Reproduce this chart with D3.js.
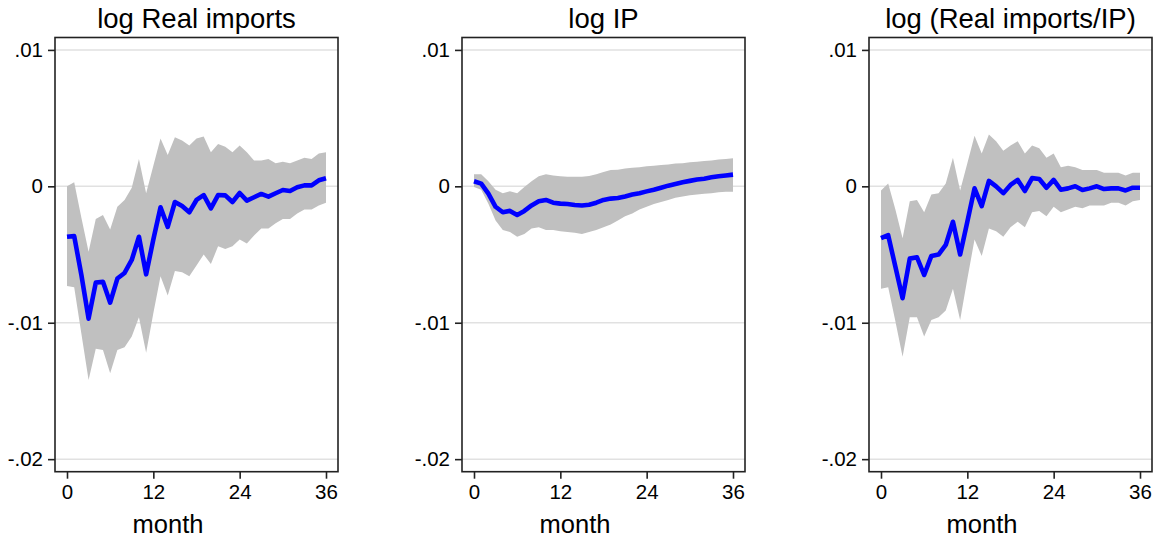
<!DOCTYPE html>
<html>
<head>
<meta charset="utf-8">
<script src="https://cdn.jsdelivr.net/npm/d3@7"></script>
<style>
  body { margin: 0; background: #fff; }
  svg { display: block; font-family: "Liberation Sans", Arial, Helvetica, sans-serif; }
</style>
</head>
<body>
<div class="svg-container"></div>
<script>
// months 0..36
const months = d3.range(0, 37);

const titles = ['log Real imports', 'log IP', 'log (Real imports/IP)'];
const yTicks = [0.01, 0, -0.01, -0.02];
const yTickLabels = ['.01', '0', '-.01', '-.02'];
const xTicks = [0, 12, 24, 36];

// log Real imports
const importsIrf = [-0.0037, -0.00365, -0.0065, -0.0097, -0.00706, -0.0070, -0.00853, -0.00676, -0.00635, -0.0054,
  -0.0037, -0.00645, -0.0039, -0.00154, -0.00297, -0.00115, -0.00145, -0.0019, -0.0010, -0.00064,
  -0.00162, -0.00064, -0.00066, -0.00115, -0.00049, -0.00105, -0.0008, -0.00056, -0.00076, -0.00051,
  -0.00027, -0.00034, -0.00007, 0.00007, 0.00007, 0.00044, 0.00059];
const importsUpper = [0.0000, 0.0003, -0.0023, -0.0048, -0.0024, -0.0021, -0.00316, -0.0015, -0.0010, -0.0001,
  0.0020, -0.0005, 0.0015, 0.0035, 0.0023, 0.0036, 0.00336, 0.0030, 0.0035, 0.00365,
  0.0025, 0.0031, 0.0029, 0.0025, 0.0030, 0.0025, 0.0019, 0.0019, 0.0020, 0.0017,
  0.0018, 0.0017, 0.0019, 0.0021, 0.0020, 0.0024, 0.0025];
const importsLower = [-0.0073, -0.0074, -0.0108, -0.0142, -0.0119, -0.0120, -0.0137, -0.0120, -0.0118, -0.0110,
  -0.0096, -0.0122, -0.0093, -0.0066, -0.0080, -0.0062, -0.0063, -0.0066, -0.0058, -0.0050,
  -0.0057, -0.0044, -0.0046, -0.0044, -0.0039, -0.0042, -0.0036, -0.0031, -0.0031, -0.0027,
  -0.0024, -0.0024, -0.0020, -0.0017, -0.0017, -0.0014, -0.0012];

// log IP
const ipIrf = [0.00037, 0.0002, -0.00054, -0.0015, -0.0019, -0.0018, -0.0021, -0.0018, -0.0014, -0.0011,
  -0.0010, -0.0012, -0.00127, -0.0013, -0.00137, -0.0014, -0.00135, -0.0012, -0.0010, -0.0009,
  -0.00086, -0.00074, -0.0006, -0.0005, -0.00037, -0.00025, -0.0001, 0.00005, 0.00017, 0.0003,
  0.0004, 0.0005, 0.00056, 0.00066, 0.00074, 0.0008, 0.00086];
const ipUpper = [0.00088, 0.00088, 0.00037, -0.00025, -0.0005, -0.00037, -0.0005, -0.00005, 0.00037, 0.00074,
  0.00088, 0.0008, 0.00074, 0.0007, 0.0007, 0.0007, 0.00076, 0.00088, 0.00105, 0.0012,
  0.00122, 0.0013, 0.00137, 0.0014, 0.00147, 0.0015, 0.00157, 0.0016, 0.00167, 0.0017,
  0.00176, 0.0018, 0.00186, 0.0019, 0.00196, 0.0020, 0.00206];
const ipLower = [-0.00005, -0.00025, -0.00127, -0.0025, -0.0032, -0.00335, -0.0037, -0.0035, -0.0031, -0.0030,
  -0.0032, -0.0032, -0.0033, -0.00335, -0.0034, -0.0035, -0.00335, -0.0032, -0.0030, -0.0028,
  -0.0025, -0.0022, -0.0020, -0.0017, -0.0015, -0.0013, -0.00115, -0.0010, -0.00083, -0.00074,
  -0.00066, -0.0006, -0.00054, -0.0005, -0.00044, -0.0004, -0.0004];

// log (Real imports/IP)
const ratioIrf = [-0.0038, -0.00358, -0.0059, -0.0082, -0.0053, -0.0052, -0.0065, -0.0051, -0.0050, -0.0043,
  -0.0026, -0.0050, -0.0026, -0.00015, -0.00145, 0.0004, 0.0000, -0.0005, 0.0001, 0.00047,
  -0.00034, 0.0006, 0.00054, -0.0001, 0.00047, -0.00025, -0.00015, 0.0000, -0.00027, -0.00015,
  0.0000, -0.0002, -0.00015, -0.00015, -0.0003, -0.0001, -0.0001];
const ratioUpper = [-0.0003, 0.0002, -0.0017, -0.0038, -0.0011, -0.0010, -0.0019, -0.0006, -0.0005, 0.0002,
  0.0021, -0.0003, 0.0017, 0.0037, 0.0024, 0.0038, 0.0033, 0.0026, 0.0030, 0.0033,
  0.0024, 0.0030, 0.0028, 0.0021, 0.0024, 0.0014, 0.0015, 0.0014, 0.0012, 0.0012,
  0.0012, 0.0010, 0.0010, 0.0010, 0.0008, 0.0010, 0.0010];
const ratioLower = [-0.0075, -0.0074, -0.0099, -0.0125, -0.0096, -0.0096, -0.0110, -0.0098, -0.0096, -0.0091,
  -0.0075, -0.0098, -0.0068, -0.0039, -0.0051, -0.0031, -0.0033, -0.0037, -0.0030, -0.0026,
  -0.0030, -0.0019, -0.0018, -0.0022, -0.0015, -0.0019, -0.0017, -0.0015, -0.0016, -0.0014,
  -0.0014, -0.0014, -0.0012, -0.0012, -0.0014, -0.0011, -0.0010];

const panels = [
  { title: titles[0], irf: importsIrf, upper: importsUpper, lower: importsLower },
  { title: titles[1], irf: ipIrf, upper: ipUpper, lower: ipLower },
  { title: titles[2], irf: ratioIrf, upper: ratioUpper, lower: ratioLower }
];

// layout
const width = 1156;
const height = 539;
const boxW = 283;
const boxTop = 37.5;
const boxBottom = 471.7;
const panelLefts = [55, 462, 869];

const svg = d3.select('.svg-container')
  .append('svg')
  .attr('width', width)
  .attr('height', height);

const y = d3.scaleLinear()
  .domain([-0.02092, 0.01091])
  .range([boxBottom, boxTop]);

panels.forEach((p, i) => {
  const left = panelLefts[i];
  const x = d3.scaleLinear()
    .domain([0, 36])
    .range([left + 12, left + 271]);

  const g = svg.append('g').attr('class', 'panel');

  // gridlines
  g.selectAll('.grid')
    .data(yTicks)
    .enter()
    .append('line')
    .attr('class', 'grid')
    .attr('x1', left)
    .attr('x2', left + boxW)
    .attr('y1', d => y(d))
    .attr('y2', d => y(d))
    .attr('stroke', '#e1e1e1')
    .attr('stroke-width', 1.5);

  // confidence band
  const area = d3.area()
    .x((d, j) => x(months[j]))
    .y0((d, j) => y(p.lower[j]))
    .y1((d, j) => y(p.upper[j]));

  g.append('path')
    .datum(months)
    .attr('d', area)
    .attr('fill', '#c0c0c0');

  // impulse response
  const line = d3.line()
    .x((d, j) => x(months[j]))
    .y(d => y(d));

  g.append('path')
    .datum(p.irf)
    .attr('d', line)
    .attr('fill', 'none')
    .attr('stroke', '#0000ff')
    .attr('stroke-width', 4.6)
    .attr('stroke-linejoin', 'round');

  // plot box
  g.append('rect')
    .attr('x', left)
    .attr('y', boxTop)
    .attr('width', boxW)
    .attr('height', boxBottom - boxTop)
    .attr('fill', 'none')
    .attr('stroke', '#222')
    .attr('stroke-width', 1.6);

  // y axis
  const yAxis = d3.axisLeft(y)
    .tickValues(yTicks)
    .tickFormat((d, j) => yTickLabels[j])
    .tickSize(7)
    .tickPadding(5);

  const ya = g.append('g')
    .attr('transform', `translate(${left},0)`)
    .call(yAxis);
  ya.select('.domain').remove();
  ya.selectAll('line').attr('stroke', '#222').attr('stroke-width', 1.6);
  ya.selectAll('text')
    .attr('fill', '#000')
    .style('font-size', '20.5px')
    .style('font-family', '"Liberation Sans", Arial, sans-serif');

  // x axis
  const xAxis = d3.axisBottom(x)
    .tickValues(xTicks)
    .tickSize(7)
    .tickPadding(6);

  const xa = g.append('g')
    .attr('transform', `translate(0,${boxBottom})`)
    .call(xAxis);
  xa.select('.domain').remove();
  xa.selectAll('line').attr('stroke', '#222').attr('stroke-width', 1.6);
  xa.selectAll('text')
    .attr('fill', '#000')
    .style('font-size', '20.5px')
    .style('font-family', '"Liberation Sans", Arial, sans-serif');

  // titles
  g.append('text')
    .attr('x', left + boxW / 2)
    .attr('y', 28)
    .attr('text-anchor', 'middle')
    .style('font-size', '27.5px')
    .text(p.title);

  g.append('text')
    .attr('x', left + 113)
    .attr('y', 533)
    .attr('text-anchor', 'middle')
    .style('font-size', '25.5px')
    .text('month');
});
</script>
</body>
</html>
